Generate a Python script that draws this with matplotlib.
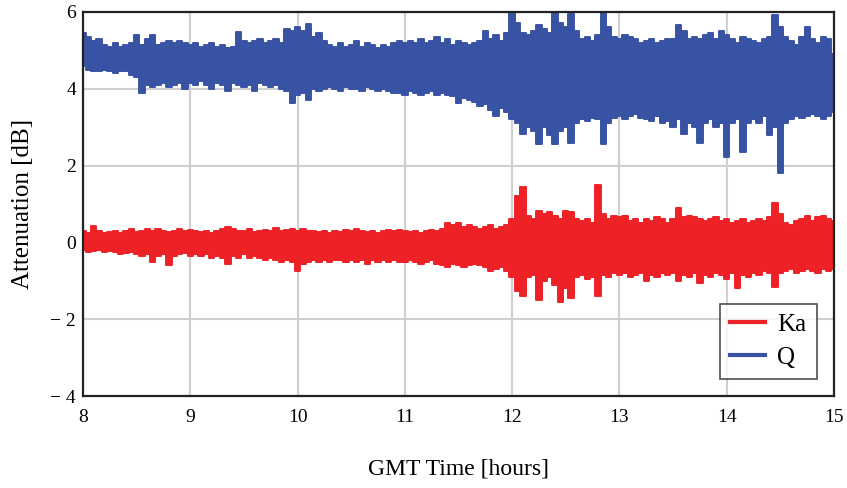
import matplotlib.pyplot as plt
import numpy as np

# time grid in GMT hours, one value every 0.05 h from 8 to 15
START, STOP, STEP = 8.0, 15.0, 0.05

# Q band: upper / lower envelope [dB]
q_upper = [
    5.45, 5.35, 5.25, 5.3, 5.15, 5.1, 5.2, 5.1, 5.15, 5.2, 5.4, 5.15, 5.3, 5.4, 5.15, 5.2, 5.25, 5.2, 5.25, 5.2,
    5.15, 5.2, 5.1, 5.15, 5.2, 5.1, 5.15, 5.05, 5.1, 5.48, 5.25, 5.2, 5.25, 5.3, 5.2, 5.25, 5.3, 5.2, 5.55, 5.5,
    5.6, 5.5, 5.68, 5.35, 5.45, 5.25, 5.15, 5.1, 5.2, 5.1, 5.15, 5.25, 5.1, 5.2, 5.15, 5.05, 5.15, 5.1, 5.2, 5.25,
    5.2, 5.25, 5.2, 5.3, 5.2, 5.25, 5.35, 5.2, 5.3, 5.15, 5.25, 5.2, 5.15, 5.2, 5.25, 5.5, 5.3, 5.4, 5.25, 5.45,
    6.0, 5.7, 5.45, 5.4, 5.5, 5.66, 5.55, 5.45, 5.97, 5.7, 5.6, 5.95, 5.5, 5.3, 5.35, 5.25, 5.4, 6.0, 5.6, 5.35,
    5.3, 5.4, 5.35, 5.3, 5.2, 5.25, 5.3, 5.2, 5.25, 5.3, 5.3, 5.66, 5.5, 5.3, 5.35, 5.3, 5.4, 5.45, 5.3, 5.5,
    5.4, 5.3, 5.2, 5.35, 5.3, 5.25, 5.2, 5.3, 5.35, 5.92, 5.6, 5.35, 5.25, 5.15, 5.35, 5.6, 5.3, 5.2, 5.35, 5.3,
    4.9,
]
q_lower = [
    4.6, 4.5, 4.45, 4.45, 4.5, 4.45, 4.4, 4.45, 4.45, 4.35, 4.3, 3.9, 4.1, 4.05, 4.1, 4.15, 4.05, 4.1, 4.15, 4.0,
    4.15, 4.1, 4.2, 4.1, 4.0, 4.15, 4.1, 3.95, 4.15, 4.1, 4.05, 4.1, 3.95, 4.15, 4.1, 4.05, 4.1, 4.0, 3.95, 3.64,
    3.85, 3.9, 3.72, 4.0, 3.95, 4.0, 4.05, 4.0, 3.95, 4.05, 4.0, 4.0, 3.95, 4.05, 4.0, 3.95, 4.0, 3.95, 3.9, 3.9,
    3.85, 3.95, 3.9, 3.85, 3.9, 3.95, 3.85, 3.9, 3.85, 3.8, 3.64, 3.75, 3.7, 3.65, 3.55, 3.6, 3.45, 3.3, 3.5, 3.4,
    3.2, 3.1, 2.82, 3.0, 2.9, 2.56, 3.0, 2.8, 2.56, 2.9, 3.0, 2.6, 3.1, 3.2, 3.15, 3.25, 3.2, 2.56, 3.1, 3.25,
    3.3, 3.2, 3.3, 3.35, 3.25, 3.2, 3.15, 3.3, 3.1, 3.15, 3.0, 3.2, 2.82, 3.1, 3.0, 2.6, 3.1, 3.2, 3.0, 3.1,
    2.22, 3.1, 3.2, 2.35, 3.1, 3.2, 3.1, 3.3, 2.8, 3.0, 1.81, 3.1, 3.2, 3.3, 3.25, 3.3, 3.35, 3.3, 3.2, 3.3,
    3.4,
]

# Ka band: upper / lower envelope [dB]
ka_upper = [
    0.3, 0.25, 0.43, 0.3, 0.25, 0.28, 0.3, 0.25, 0.3, 0.35, 0.28, 0.3, 0.35, 0.3, 0.35, 0.3, 0.28, 0.3, 0.35, 0.3,
    0.32, 0.3, 0.28, 0.3, 0.25, 0.3, 0.35, 0.4, 0.35, 0.3, 0.3, 0.35, 0.28, 0.3, 0.33, 0.3, 0.37, 0.3, 0.32, 0.35,
    0.3, 0.35, 0.3, 0.3, 0.28, 0.3, 0.25, 0.3, 0.28, 0.32, 0.3, 0.35, 0.3, 0.28, 0.3, 0.25, 0.3, 0.33, 0.3, 0.32,
    0.3, 0.28, 0.3, 0.25, 0.3, 0.32, 0.3, 0.35, 0.5, 0.45, 0.5, 0.4, 0.45, 0.4, 0.35, 0.4, 0.45, 0.35, 0.4, 0.45,
    0.6, 1.2, 1.45, 0.7, 0.6, 0.83, 0.75, 0.8, 0.7, 0.6, 0.83, 0.8, 0.6, 0.55, 0.6, 0.5, 1.5, 0.75, 0.6, 0.7,
    0.65, 0.7, 0.55, 0.6, 0.5, 0.6, 0.55, 0.65, 0.6, 0.5, 0.6, 0.9, 0.65, 0.7, 0.65, 0.6, 0.55, 0.6, 0.65, 0.55,
    0.6, 0.5, 0.55, 0.6, 0.5, 0.55, 0.6, 0.55, 0.65, 1.03, 0.75, 0.5, 0.45, 0.55, 0.6, 0.7, 0.55, 0.65, 0.7, 0.6,
    0.55,
]
ka_lower = [
    -0.2, -0.25, -0.22, -0.2, -0.25, -0.22, -0.25, -0.3, -0.28, -0.25, -0.3, -0.35, -0.3, -0.5, -0.35, -0.3, -0.58, -0.35, -0.3, -0.28,
    -0.35, -0.3, -0.35, -0.3, -0.4, -0.35, -0.4, -0.55, -0.35, -0.4, -0.3, -0.4, -0.35, -0.4, -0.45, -0.4, -0.45, -0.5, -0.45, -0.5,
    -0.75, -0.55, -0.5, -0.45, -0.5, -0.45, -0.5, -0.45, -0.45, -0.5, -0.45, -0.5, -0.45, -0.55, -0.45, -0.5, -0.45, -0.5, -0.45, -0.5,
    -0.5, -0.45, -0.5, -0.55, -0.5, -0.45, -0.55, -0.6, -0.65, -0.55, -0.6, -0.65, -0.6, -0.55, -0.6, -0.65, -0.75, -0.7, -0.65, -0.75,
    -0.9, -1.27, -1.4, -0.9, -0.85, -1.5, -1.0, -0.9, -1.1, -1.55, -1.2, -1.45, -0.9, -0.85, -0.95, -0.9, -1.4, -0.85, -0.9, -0.8,
    -0.85, -0.8, -0.9, -0.85, -0.8, -1.0, -0.85, -0.9, -0.8, -0.85, -0.8, -1.0, -0.85, -0.9, -0.8, -1.05, -0.85, -0.9, -0.8, -0.85,
    -0.95, -0.8, -1.2, -0.85, -0.9, -0.8, -0.85, -0.75, -0.8, -1.15, -0.8, -0.75, -0.7, -0.8, -0.75, -0.7, -0.75, -0.8, -0.7, -0.75,
    -0.7,
]

x_ticks = [8, 9, 10, 11, 12, 13, 14, 15]
y_ticks = [-4, -2, 0, 2, 4, 6]
y_tick_labels = ["\u2212 4", "\u2212 2", "0", "2", "4", "6"]

RED = "#ee2127"
BLUE = "#3953a4"

plt.rcParams["font.family"] = ["Liberation Serif", "DejaVu Serif"]

t = START + STEP * np.arange(len(q_upper))

fig = plt.figure(figsize=(8.47, 4.88), dpi=100)
ax = fig.add_axes([0.098, 0.1885, 0.8867, 0.787])

for up, lo, col, name in [(ka_upper, ka_lower, RED, "Ka"), (q_upper, q_lower, BLUE, "Q")]:
    ax.fill_between(t, lo, up, color=col, lw=0, step="mid", zorder=3)
    ax.plot(t, up, color=col, lw=1.4, drawstyle="steps-mid", zorder=3, label=name)
    ax.plot(t, lo, color=col, lw=1.4, drawstyle="steps-mid", zorder=3)

ax.set_xlim(8, 15)
ax.set_ylim(-4, 6)
ax.set_xticks(x_ticks)
ax.set_yticks(y_ticks)
ax.set_yticklabels(y_tick_labels)
ax.tick_params(length=0, labelsize=14)
ax.tick_params(axis="x", pad=9)
ax.tick_params(axis="y", pad=5)
ax.grid(True, color="#cfcfcf", lw=1.5, zorder=0)
for s in ax.spines.values():
    s.set_color("#222222")
    s.set_linewidth(1.6)
    s.set_zorder(5)

ax.set_xlabel("GMT Time [hours]", fontsize=17, labelpad=24)
ax.set_ylabel("Attenuation [dB]", fontsize=18, labelpad=12)

leg = ax.legend(loc="lower right", fontsize=18, frameon=True, fancybox=False,
                handlelength=1.4, handletextpad=0.5, borderpad=0.4,
                borderaxespad=0.7, labelspacing=0.4)
leg.get_frame().set_edgecolor("#222222")
leg.get_frame().set_linewidth(1.2)
for line in leg.get_lines():
    line.set_linewidth(3)

fig.savefig("out.png", dpi=100)
